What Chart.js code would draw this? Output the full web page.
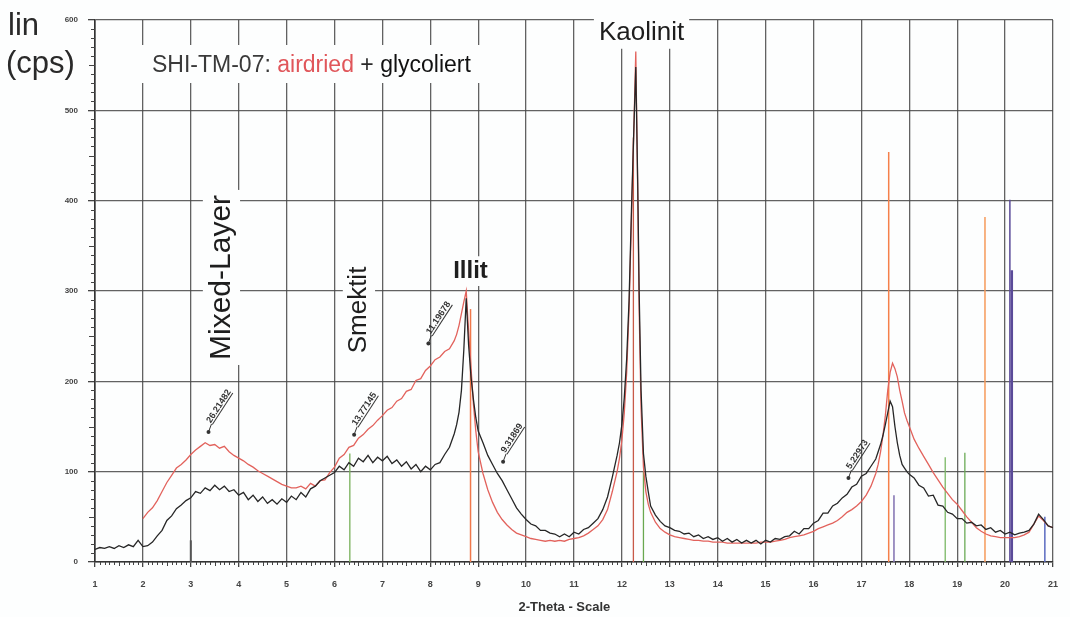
<!DOCTYPE html>
<html>
<head>
<meta charset="utf-8">
<title>SHI-TM-07</title>
<script src="https://cdn.jsdelivr.net/npm/chart.js@4.4.1/dist/chart.umd.min.js"></script>
<style>
  html, body { margin: 0; padding: 0; background: #fdfefe; }
  #wrap { width: 1070px; height: 617px; }
</style>
</head>
<body>
<div id="wrap"><canvas id="xrdChart" width="1070" height="617"></canvas></div>
<script>
// Messpunkte 2-Theta (Grad)
const twoTheta = [
    1.0, 1.1, 1.2, 1.3, 1.4, 1.5, 1.6, 1.7, 1.8, 1.9,
    2.0, 2.1, 2.2, 2.3, 2.4, 2.5, 2.6, 2.7, 2.8, 2.9,
    3.0, 3.1, 3.2, 3.3, 3.4, 3.5, 3.6, 3.7, 3.8, 3.9,
    4.0, 4.1, 4.2, 4.3, 4.4, 4.5, 4.6, 4.7, 4.8, 4.9,
    5.0, 5.1, 5.2, 5.3, 5.4, 5.5, 5.6, 5.7, 5.8, 5.9,
    6.0, 6.1, 6.2, 6.3, 6.4, 6.5, 6.6, 6.7, 6.8, 6.9,
    7.0, 7.1, 7.2, 7.3, 7.4, 7.5, 7.6, 7.7, 7.8, 7.9,
    8.0, 8.1, 8.2, 8.3, 8.4, 8.5,
    8.55, 8.6, 8.65, 8.7, 8.75, 8.8, 8.85, 8.9, 8.95, 9.0,
    9.1, 9.2, 9.3, 9.4, 9.5, 9.6, 9.7, 9.8, 9.9,
    10.0, 10.1, 10.2, 10.3, 10.4, 10.5, 10.6, 10.7, 10.8, 10.9,
    11.0, 11.1, 11.2, 11.3, 11.4, 11.5, 11.6, 11.7, 11.8, 11.9,
    11.95, 12.0, 12.05, 12.1, 12.15, 12.2, 12.25, 12.29, 12.33, 12.36, 12.4, 12.45, 12.5, 12.55, 12.6,
    12.7, 12.8, 12.9,
    13.0, 13.1, 13.2, 13.3, 13.4, 13.5, 13.6, 13.7, 13.8, 13.9,
    14.0, 14.1, 14.2, 14.3, 14.4, 14.5, 14.6, 14.7, 14.8, 14.9,
    15.0, 15.1, 15.2, 15.3, 15.4, 15.5, 15.6, 15.7, 15.8, 15.9,
    16.0, 16.1, 16.2, 16.3, 16.4, 16.5, 16.6, 16.7, 16.8, 16.9,
    17.0, 17.1, 17.2, 17.3,
    17.35, 17.4, 17.45, 17.5, 17.55, 17.6, 17.65, 17.7, 17.75, 17.8, 17.85, 17.9, 17.95, 18.0,
    18.1, 18.2, 18.3, 18.4, 18.5, 18.6, 18.7, 18.8, 18.9,
    19.0, 19.1, 19.2, 19.3, 19.4, 19.5, 19.6, 19.7, 19.8, 19.9,
    20.0, 20.1, 20.2, 20.3, 20.4, 20.5, 20.6, 20.7, 20.8, 20.9, 21.0
];

// glycoliert (cps)
const glycoliert = [
    14, 16, 15, 17, 15, 18, 16, 19, 17, 24,
    17, 18, 22, 29, 35, 46, 51, 59, 63, 68,
    71, 78, 76, 82, 79, 85, 80, 84, 78, 80,
    74, 77, 69, 74, 67, 72, 65, 69, 64, 70,
    66, 73, 69, 77, 72, 81, 84, 90, 93, 96,
    99, 106, 102, 110, 106, 115, 111, 118, 110, 116,
    112, 117, 109, 113, 106, 111, 103, 108, 100, 106,
    102, 108, 110, 119, 127, 142,
    152, 166, 190, 235, 292, 240, 205, 180, 160, 145,
    132, 118, 108, 98, 90, 80, 70, 60, 53,
    47, 42, 40, 35, 35, 32, 31, 28, 31, 28,
    33, 31, 36, 38, 43, 48, 58, 72, 94, 118,
    132, 152, 182, 225, 290, 390, 480, 548, 420, 300, 190, 120, 95, 78, 62,
    52, 45, 40,
    38, 35, 34, 31, 32, 28, 30, 26, 28, 25,
    27, 23, 26, 22, 25, 21, 24, 21, 24, 20,
    24, 22, 26, 25, 28, 29, 34, 31, 37, 37,
    43, 46, 54, 54, 62, 65, 71, 75, 83, 86,
    95, 98, 106, 114,
    122, 130, 140, 152, 165, 178, 172, 150, 132, 118, 108, 104, 100, 97,
    93, 85, 82, 73, 74, 63, 62, 55, 53,
    48, 48, 43, 44, 40, 41, 36, 38, 33, 35,
    31, 33, 30, 32, 33, 35, 42, 53, 47, 40, 38
];

// airdried (cps), Messung beginnt bei 2 Grad
const airdried = [
    null, null, null, null, null, null, null, null, null, null,
    48, 55, 60, 68, 78, 88, 96, 104, 108, 113,
    119, 124, 128, 132, 129, 130, 126, 128, 122, 118,
    115, 112, 108, 105, 101, 98, 95, 92, 89, 86,
    84, 82, 82, 84, 81, 87, 84, 90, 91, 99,
    105, 115, 119, 127, 129, 137, 141, 147, 151, 157,
    162, 168, 171, 178, 181, 189, 191, 201, 203, 212,
    217, 224, 227, 233, 236, 245,
    252, 262, 275, 288, 300, 255, 215, 175, 145, 122,
    98, 80, 66, 55, 47, 41, 36, 32, 30,
    28, 26, 25, 24, 23, 24, 23, 24, 23, 25,
    26, 27, 29, 32, 36, 40, 47, 58, 78, 100,
    115, 135, 165, 210, 280, 380, 480, 565, 410, 280, 170, 105, 78, 64, 55,
    44, 37, 33,
    30, 28, 27, 26, 25, 24, 24, 23, 23, 22,
    22, 22, 21, 21, 21, 21, 21, 21, 21, 22,
    22, 22, 23, 24, 25, 27, 28, 29, 30, 32,
    34, 37, 39, 41, 43, 46, 50, 55, 58, 62,
    67, 74, 84, 98,
    108, 122, 140, 162, 190, 210, 220, 214, 205, 190, 178, 165, 157, 150,
    136, 126, 117, 108, 99, 91, 83, 76, 69,
    64, 57, 50, 44, 38, 34, 31, 29, 28, 27,
    27, 27, 27, 28, 30, 33, 42, 51, 46, 40, 38
];

// Referenzlinien (Strichdiagramme)
const stickPos   = [3.0, 6.32, 8.84, 12.24, 12.45, 17.57, 17.68, 18.75, 19.16, 19.58, 20.10, 20.14, 20.83];
const stickTop   = [24, 120, 280, 470, 100, 454, 74, 116, 121, 382, 401, 323, 50];
const stickColor = ['#555555', '#78b05a', '#f0784a', '#c85a48', '#6aa84f', '#f5804a', '#8070b0',
                    '#7ab865', '#6aaa55', '#f59a5a', '#5a4a98', '#5a4a98', '#5a6ac0'];
const stickWidth = [2, 1.3, 1.5, 1.3, 1.3, 1.5, 1.5, 1.3, 1.3, 1.5, 1.5, 2.5, 1.5];

// d-Werte an den Reflexen
const dPos  = [3.37, 6.41, 7.96, 9.52, 16.73];
const dCps  = [144, 141, 242, 111, 93];
const dText = ['26.21482', '13.77145', '11.19678', '9.31869', '5.22973'];

// Mineralbezeichnungen
const mineralName = ['Mixed-Layer', 'Smektit', 'Illit', 'Kaolinit'];
const mineralPos  = [3.64, 6.51, 8.84, 12.41];
const mineralCps  = [315, 279, 322, 586];
const mineralRot  = [-90, -90, 0, 0];
const mineralFont = ['30px', '26px', 'bold 24px', '26px'];

// Achsen
const xMin = 1, xMax = 21, xStep = 1;
const yMin = 0, yMax = 600, yStep = 100;

const FONT = "'Liberation Sans', Arial, sans-serif";
const gridColor = 'rgba(70, 70, 70, 0.85)';

function boxedLabel(ctx, text, x, y, angleDeg, font) {
    ctx.save();
    ctx.translate(x, y);
    ctx.rotate(angleDeg * Math.PI / 180);
    ctx.font = font;
    const w = ctx.measureText(text).width;
    const h = parseInt(font.match(/(\d+)px/)[1], 10);
    ctx.fillStyle = '#fdfefe';
    ctx.fillRect(-w / 2 - 5, -h * 0.62, w + 10, h * 1.24);
    ctx.restore();
}

function drawLabel(ctx, text, x, y, angleDeg, font, color) {
    ctx.save();
    ctx.translate(x, y);
    ctx.rotate(angleDeg * Math.PI / 180);
    ctx.font = font;
    ctx.fillStyle = color;
    ctx.textAlign = 'center';
    ctx.textBaseline = 'middle';
    ctx.fillText(text, 0, 0);
    ctx.restore();
}

const paperPlugin = {
    id: 'paper',
    beforeDraw(chart) {
        const c = chart.ctx;
        c.save();
        c.fillStyle = '#fdfefe';
        c.fillRect(0, 0, chart.width, chart.height);
        c.restore();
    },
    beforeDatasetsDraw(chart) {
        const c = chart.ctx;
        const xs = chart.scales.x, ys = chart.scales.y;
        const area = chart.chartArea;

        // Nebenstriche an den Achsen
        c.save();
        c.strokeStyle = '#444';
        c.lineWidth = 1;
        c.beginPath();
        for (let i = 0; i <= (xMax - xMin) * 10; i++) {
            if (i % 10 === 0) continue;
            const px = Math.round(xs.getPixelForValue(xMin + i / 10)) + 0.5;
            const len = i % 5 === 0 ? 4 : 3;
            c.moveTo(px, area.bottom);
            c.lineTo(px, area.bottom + len);
        }
        for (let v = yMin + 10; v < yMax; v += 10) {
            if (v % 100 === 0) continue;
            const py = Math.round(ys.getPixelForValue(v)) + 0.5;
            const len = v % 50 === 0 ? 6 : 4;
            c.moveTo(area.left, py);
            c.lineTo(area.left - len, py);
        }
        c.stroke();
        c.restore();

        // weisse Hinterlegung der Beschriftungen
        for (let i = 0; i < mineralName.length; i++) {
            boxedLabel(c, mineralName[i], xs.getPixelForValue(mineralPos[i]),
                ys.getPixelForValue(mineralCps[i]), mineralRot[i], mineralFont[i] + ' ' + FONT);
        }
        c.save();
        c.fillStyle = '#fdfefe';
        c.fillRect(140, 45, 348, 38);
        c.restore();
    },
    afterDatasetsDraw(chart) {
        const c = chart.ctx;
        const xs = chart.scales.x, ys = chart.scales.y;

        for (let i = 0; i < mineralName.length; i++) {
            drawLabel(c, mineralName[i], xs.getPixelForValue(mineralPos[i]),
                ys.getPixelForValue(mineralCps[i]), mineralRot[i], mineralFont[i] + ' ' + FONT, '#1e1e1e');
        }

        // d-Werte mit Markierung
        c.save();
        for (let i = 0; i < dText.length; i++) {
            const px = xs.getPixelForValue(dPos[i]);
            const py = ys.getPixelForValue(dCps[i]);
            c.fillStyle = '#333';
            c.strokeStyle = '#333';
            c.lineWidth = 1;
            c.beginPath();
            c.arc(px, py, 2, 0, Math.PI * 2);
            c.fill();
            c.beginPath();
            c.moveTo(px, py);
            c.lineTo(px + 3, py - 8);
            c.stroke();
            c.save();
            c.translate(px + 3, py - 8);
            c.rotate(-57 * Math.PI / 180);
            c.font = 'bold 9px ' + FONT;
            c.textAlign = 'left';
            c.textBaseline = 'alphabetic';
            const w = c.measureText(dText[i]).width;
            c.fillText(dText[i], 0, -1);
            c.beginPath();
            c.moveTo(0, 1);
            c.lineTo(w, 1);
            c.stroke();
            c.restore();
        }
        c.restore();

        // Einheit der y-Achse
        c.save();
        c.fillStyle = '#2a2a2a';
        c.font = '31px ' + FONT;
        c.textAlign = 'left';
        c.textBaseline = 'alphabetic';
        c.fillText('lin', 8, 35);
        c.fillText('(cps)', 6, 73);

        // Probenbezeichnung
        const parts = [['SHI-TM-07: ', '#3a3a3a'], ['airdried', '#e0565a'], [' + ', '#2a2a2a'], ['glycoliert', '#111']];
        c.font = '23px ' + FONT;
        let tx = 152;
        for (const [t, col] of parts) {
            c.fillStyle = col;
            c.fillText(t, tx, 72);
            tx += c.measureText(t).width;
        }

        // Achsentitel x
        c.font = 'bold 13px ' + FONT;
        c.fillStyle = '#333';
        c.textAlign = 'center';
        c.fillText('2-Theta - Scale', xs.getPixelForValue(10.8), 611);
        c.restore();
    }
};

const datasets = [];
datasets.push({
    label: 'glycoliert',
    data: twoTheta.map((x, i) => ({ x: x, y: glycoliert[i] })),
    borderColor: '#262626',
    borderWidth: 1.3,
    order: 0
});
datasets.push({
    label: 'airdried',
    data: twoTheta.map((x, i) => ({ x: x, y: airdried[i] })),
    borderColor: '#e2625c',
    borderWidth: 1.3,
    order: 1
});
for (let i = 0; i < stickPos.length; i++) {
    datasets.push({
        label: 'ref' + i,
        data: [{ x: stickPos[i], y: 0 }, { x: stickPos[i], y: stickTop[i] }],
        borderColor: stickColor[i],
        borderWidth: stickWidth[i],
        order: 5
    });
}

const ctx = document.getElementById('xrdChart').getContext('2d');
const xrdChart = new Chart(ctx, {
    type: 'scatter',
    data: { datasets: datasets },
    options: {
        responsive: false,
        animation: false,
        showLine: true,
        spanGaps: false,
        elements: {
            point: { radius: 0, hoverRadius: 0 },
            line: { tension: 0, fill: false, borderCapStyle: 'butt' }
        },
        layout: { padding: { left: 5, right: 6, top: 20, bottom: 0 } },
        scales: {
            x: {
                type: 'linear',
                min: xMin,
                max: xMax,
                afterFit: s => { s.height = 55; },
                ticks: {
                    stepSize: xStep,
                    color: '#444',
                    padding: 12,
                    font: { family: FONT, size: 9, weight: 'bold' },
                    maxRotation: 0
                },
                grid: { color: gridColor, lineWidth: 1.3, tickLength: 5, tickColor: '#444' },
                border: { color: '#333', width: 1.6 }
            },
            y: {
                min: yMin,
                max: yMax,
                afterFit: s => { s.width = 90; },
                ticks: {
                    stepSize: yStep,
                    color: '#444',
                    padding: 10,
                    font: { family: FONT, size: 8, weight: 'bold' }
                },
                grid: { color: gridColor, lineWidth: 1.3, tickLength: 7, tickColor: '#444' },
                border: { color: '#333', width: 1.6 }
            }
        },
        plugins: {
            legend: { display: false },
            tooltip: { enabled: false }
        }
    },
    plugins: [paperPlugin]
});
</script>
</body>
</html>
